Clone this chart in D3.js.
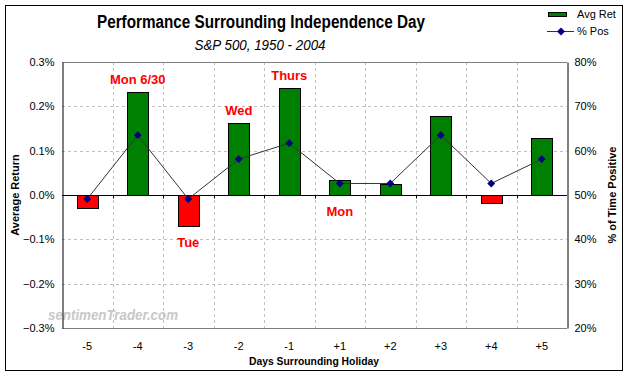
<!DOCTYPE html>
<html>
<head>
<meta charset="utf-8">
<script src="https://cdn.jsdelivr.net/npm/d3@7"></script>
<style>
  body { margin: 0; background: #fff; }
  text { font-family: Arial, "Liberation Sans", sans-serif; }
</style>
</head>
<body>
<svg id="chart" width="628" height="376"></svg>
<script>
'use strict';

// data
const days = ['-5', '-4', '-3', '-2', '-1', '+1', '+2', '+3', '+4', '+5'];
const avgRet = [-0.030, 0.232, -0.070, 0.162, 0.241, 0.033, 0.024, 0.178, -0.019, 0.128];
const pctPos = [49.1, 63.5, 49.1, 58.1, 61.7, 52.6, 52.6, 63.5, 52.6, 58.1];
const leftTicks = [-0.3, -0.2, -0.1, 0, 0.1, 0.2, 0.3];
const rightTicks = [20, 30, 40, 50, 60, 70, 80];
const notes = [
    { day: '-4', text: 'Mon 6/30', above: true },
    { day: '-3', text: 'Tue', above: false },
    { day: '-2', text: 'Wed', above: true },
    { day: '-1', text: 'Thurs', above: true },
    { day: '+1', text: 'Mon', above: false }
];

const svg = d3.select('#chart');
const plotLeft = 62, plotRight = 567, plotTop = 62, plotBottom = 328;

const x = d3.scaleBand().domain(days).range([plotLeft, plotRight]);
const y = d3.scaleLinear().domain([-0.3, 0.3]).range([plotBottom, plotTop]);
const y2 = d3.scaleLinear().domain([20, 80]).range([plotBottom, plotTop]);

// outer frame
svg.append('rect')
    .attr('x', 5.5).attr('y', 5.5).attr('width', 617).attr('height', 365)
    .attr('fill', '#fff').attr('stroke', '#000').attr('stroke-width', 1);

// titles
svg.append('text').attr('x', 261).attr('y', 28).attr('text-anchor', 'middle')
    .attr('font-size', 18).attr('font-weight', 'bold')
    .attr('textLength', 328).attr('lengthAdjust', 'spacingAndGlyphs')
    .text('Performance Surrounding Independence Day');
svg.append('text').attr('x', 260).attr('y', 50).attr('text-anchor', 'middle')
    .attr('font-size', 15).attr('font-style', 'italic')
    .attr('textLength', 131).attr('lengthAdjust', 'spacingAndGlyphs')
    .text('S&P 500, 1950 - 2004');

// gridlines
svg.append('g').selectAll('line').data(leftTicks.filter(d => d !== 0 && d !== 0.3 && d !== -0.3))
    .join('line')
    .attr('x1', plotLeft).attr('x2', plotRight)
    .attr('y1', d => Math.round(y(d)) + 0.5).attr('y2', d => Math.round(y(d)) + 0.5)
    .attr('stroke', '#c0c0c0').attr('stroke-dasharray', '3,3');
svg.append('g').selectAll('line').data(days.slice(1))
    .join('line')
    .attr('x1', d => Math.round(x(d)) + 0.5).attr('x2', d => Math.round(x(d)) + 0.5)
    .attr('y1', plotTop).attr('y2', plotBottom)
    .attr('stroke', '#c0c0c0').attr('stroke-dasharray', '3,3');

// plot frame
svg.append('line').attr('x1', plotLeft).attr('x2', plotRight).attr('y1', plotTop + 0.5).attr('y2', plotTop + 0.5)
    .attr('stroke', '#808080');
svg.append('line').attr('x1', plotLeft).attr('x2', plotRight).attr('y1', plotBottom + 0.5).attr('y2', plotBottom + 0.5)
    .attr('stroke', '#808080');

// watermark
svg.append('text').attr('x', 48).attr('y', 320)
    .attr('font-size', 14).attr('font-weight', 'bold').attr('font-style', 'italic')
    .attr('fill', '#c8c8c8')
    .attr('textLength', 130).attr('lengthAdjust', 'spacingAndGlyphs')
    .text('sentimenTrader.com');

// bars
const barW = x.bandwidth() * 0.42;
svg.append('g').selectAll('rect').data(days)
    .join('rect')
    .attr('x', d => Math.round(x(d) + (x.bandwidth() - barW) / 2) + 0.5)
    .attr('width', Math.round(barW))
    .attr('y', (d, i) => Math.round(y(Math.max(0, avgRet[i]))) + 0.5)
    .attr('height', (d, i) => Math.round(Math.abs(y(avgRet[i]) - y(0))))
    .attr('fill', (d, i) => avgRet[i] >= 0 ? '#008000' : '#ff0000')
    .attr('stroke', '#000').attr('stroke-width', 1);

// zero line with ticks
const zeroY = Math.round(y(0)) + 0.5;
svg.append('line').attr('x1', plotLeft).attr('x2', plotRight).attr('y1', zeroY).attr('y2', zeroY)
    .attr('stroke', '#000');
svg.append('g').selectAll('line').data(days.slice(1))
    .join('line')
    .attr('x1', d => Math.round(x(d)) + 0.5).attr('x2', d => Math.round(x(d)) + 0.5)
    .attr('y1', zeroY).attr('y2', zeroY + 3)
    .attr('stroke', '#000');

// % positive line
const line = d3.line()
    .x((d, i) => x(days[i]) + x.bandwidth() / 2)
    .y(d => y2(d));
svg.append('path').datum(pctPos)
    .attr('d', line)
    .attr('fill', 'none').attr('stroke', '#333').attr('stroke-width', 1);
svg.append('g').selectAll('path').data(pctPos)
    .join('path')
    .attr('transform', (d, i) => `translate(${x(days[i]) + x.bandwidth() / 2},${y2(d)})`)
    .attr('d', d3.symbol(d3.symbolDiamond2, 40))
    .attr('fill', '#000080');

// axes
const leftAxis = svg.append('g').attr('transform', `translate(${plotLeft + 0.5},0)`)
    .call(d3.axisLeft(y).tickValues(leftTicks).tickSize(0).tickPadding(8)
        .tickFormat(d => d3.format('.1f')(d) + '%'));
leftAxis.select('.domain').attr('stroke', '#000');
leftAxis.selectAll('text').attr('font-size', 11).attr('font-family', 'Arial, "Liberation Sans", sans-serif');

const rightAxis = svg.append('g').attr('transform', `translate(${plotRight + 0.5},0)`)
    .call(d3.axisRight(y2).tickValues(rightTicks).tickSize(0).tickPadding(7)
        .tickFormat(d => d + '%'));
rightAxis.select('.domain').attr('stroke', '#000');
rightAxis.selectAll('text').attr('font-size', 11).attr('font-family', 'Arial, "Liberation Sans", sans-serif');

const bottomAxis = svg.append('g').attr('transform', `translate(0,${plotBottom})`)
    .call(d3.axisBottom(x).tickSize(0).tickPadding(14));
bottomAxis.select('.domain').remove();
bottomAxis.selectAll('text').attr('font-size', 11).attr('font-family', 'Arial, "Liberation Sans", sans-serif');

// axis titles
svg.append('text').attr('transform', 'translate(19,195) rotate(-90)')
    .attr('text-anchor', 'middle').attr('font-size', 11).attr('font-weight', 'bold')
    .text('Average Return');
svg.append('text').attr('transform', 'translate(616,195) rotate(-90)')
    .attr('text-anchor', 'middle').attr('font-size', 11).attr('font-weight', 'bold')
    .text('% of Time Positive');
svg.append('text').attr('x', 314).attr('y', 365)
    .attr('text-anchor', 'middle').attr('font-size', 11).attr('font-weight', 'bold')
    .attr('textLength', 130).attr('lengthAdjust', 'spacingAndGlyphs')
    .text('Days Surrounding Holiday');

// day annotations
svg.append('g').selectAll('text').data(notes)
    .join('text')
    .attr('x', d => x(d.day) + x.bandwidth() / 2)
    .attr('y', d => {
        const v = avgRet[days.indexOf(d.day)];
        return d.above ? y(Math.max(v, 0)) - 8 : y(Math.min(v, 0)) + 21;
    })
    .attr('text-anchor', 'middle').attr('font-size', 13).attr('font-weight', 'bold')
    .attr('fill', '#ff0000')
    .text(d => d.text);

// legend
const legend = svg.append('g');
legend.append('rect').attr('x', 548.5).attr('y', 12.5).attr('width', 18).attr('height', 4)
    .attr('fill', '#008000').attr('stroke', '#000');
legend.append('text').attr('x', 577).attr('y', 18).attr('font-size', 11).text('Avg Ret');
legend.append('line').attr('x1', 547).attr('x2', 574).attr('y1', 31.5).attr('y2', 31.5)
    .attr('stroke', '#333');
legend.append('path').attr('transform', 'translate(561,31.5)')
    .attr('d', d3.symbol(d3.symbolDiamond2, 40)).attr('fill', '#000080');
legend.append('text').attr('x', 577).attr('y', 35).attr('font-size', 11).text('% Pos');
</script>
</body>
</html>
